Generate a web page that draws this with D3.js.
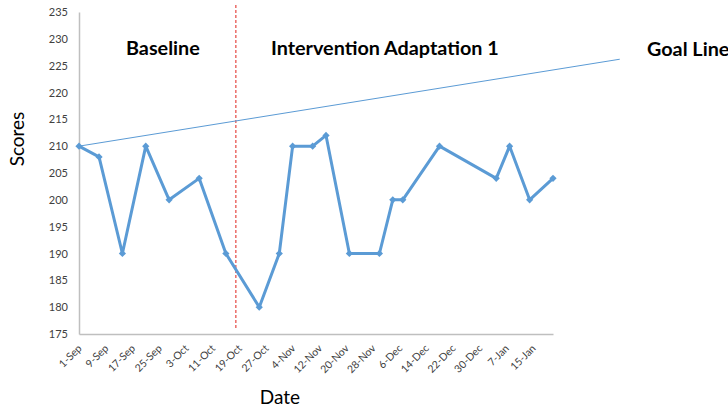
<!DOCTYPE html>
<html>
<head>
<meta charset="utf-8">
<script src="https://cdn.jsdelivr.net/npm/d3@7"></script>
<style>
  body { margin: 0; background: #fff; }
  svg { display: block; font-family: Lato, "Open Sans", sans-serif; }
</style>
</head>
<body>
<svg id="chart" width="728" height="408"></svg>
<script>
// session dates and scores
var dates = ['1-Sep', '7-Sep', '14-Sep', '21-Sep', '28-Sep', '7-Oct', '15-Oct',
  '25-Oct', '31-Oct', '4-Nov', '10-Nov', '14-Nov', '21-Nov', '30-Nov',
  '4-Dec', '7-Dec', '18-Dec', '4-Jan', '8-Jan', '14-Jan', '21-Jan'];
var scores = [210, 208, 190, 210, 200, 204, 190,
  180, 190, 210, 210, 212, 190, 190,
  200, 200, 210, 204, 210, 200, 204];

// goal line end points
var goalDates = ['1-Sep', '10-Feb'];
var goalScores = [210, 226.2];

// phase change between baseline and intervention
var phaseChange = '18-Oct';

var tickLabels = ['1-Sep', '9-Sep', '17-Sep', '25-Sep', '3-Oct', '11-Oct',
  '19-Oct', '27-Oct', '4-Nov', '12-Nov', '20-Nov', '28-Nov', '6-Dec',
  '14-Dec', '22-Dec', '30-Dec', '7-Jan', '15-Jan'];
var yTicks = [175, 180, 185, 190, 195, 200, 205, 210, 215, 220, 225, 230, 235];

var phaseLabels = ['Baseline', 'Intervention Adaptation 1', 'Goal Line'];

var parseDay = d3.utcParse('%d-%b-%Y');
// school year runs Sep..Feb, so Jan/Feb fall in the next year
function toDate(s) {
  var year = /Jan|Feb/.test(s) ? 2016 : 2015;
  return parseDay(s + '-' + year);
}

var plotLeft = 79, plotRight = 553, plotTop = 12, plotBottom = 334;

var svg = d3.select('#chart');

var x = d3.scaleUtc()
    .domain([toDate(dates[0]), toDate(dates[dates.length - 1])])
    .range([plotLeft, plotRight]);
var y = d3.scaleLinear()
    .domain([175, 235])
    .range([plotBottom, plotTop]);

// axes
var xAxis = svg.append('g')
    .attr('transform', 'translate(0,' + plotBottom + ')')
    .call(d3.axisBottom(x)
        .tickValues(tickLabels.map(toDate))
        .tickFormat(function(d, i) { return tickLabels[i]; })
        .tickSize(0)
        .tickPadding(0));
xAxis.select('.domain').attr('stroke', '#bfbfbf').attr('stroke-width', 1.5);
xAxis.selectAll('text')
    .attr('font-family', 'Lato, sans-serif')
    .attr('font-size', 10.5)
    .attr('fill', '#404040')
    .attr('text-anchor', 'end')
    .attr('dy', null)
    .attr('y', null)
    .attr('transform', 'translate(3,15) rotate(-45)');

var yAxis = svg.append('g')
    .attr('transform', 'translate(' + plotLeft + ',0)')
    .call(d3.axisLeft(y).tickValues(yTicks).tickSize(0).tickPadding(11));
yAxis.select('.domain').attr('stroke', '#bfbfbf').attr('stroke-width', 1.5);
yAxis.selectAll('text')
    .attr('font-family', 'Lato, sans-serif')
    .attr('font-size', 11)
    .attr('fill', '#404040');

// phase change line
var px = x(toDate(phaseChange));
svg.append('line')
    .attr('x1', px).attr('x2', px)
    .attr('y1', 5).attr('y2', 329)
    .attr('stroke', '#e0201b')
    .attr('stroke-width', 1)
    .attr('stroke-dasharray', '3,2');

// goal line
svg.append('line')
    .attr('x1', x(toDate(goalDates[0]))).attr('y1', y(goalScores[0]))
    .attr('x2', x(toDate(goalDates[1]))).attr('y2', y(goalScores[1]))
    .attr('stroke', '#5b9bd5')
    .attr('stroke-width', 1);

// score series
var points = dates.map(function(d, i) {
  return {date: toDate(d), value: scores[i]};
});
svg.append('path')
    .datum(points)
    .attr('fill', 'none')
    .attr('stroke', '#5b9bd5')
    .attr('stroke-width', 3)
    .attr('stroke-linejoin', 'round')
    .attr('d', d3.line()
        .x(function(d) { return x(d.date); })
        .y(function(d) { return y(d.value); }));

svg.selectAll('.marker').data(points)
    .enter().append('path')
    .attr('class', 'marker')
    .attr('d', d3.symbol(d3.symbolSquare, 26))
    .attr('fill', '#5b9bd5')
    .attr('transform', function(d) {
      return 'translate(' + x(d.date) + ',' + y(d.value) + ') rotate(45)';
    });

// phase labels
var labelPos = [[126, 55], [271, 55], [647, 56]];
svg.selectAll('.phase').data(phaseLabels)
    .enter().append('text')
    .attr('class', 'phase')
    .attr('x', function(d, i) { return labelPos[i][0]; })
    .attr('y', function(d, i) { return labelPos[i][1]; })
    .attr('font-size', 19.8)
    .attr('font-weight', 'bold')
    .attr('fill', '#000')
    .text(function(d) { return d; });

// axis titles
svg.append('text')
    .attr('transform', 'translate(24,139) rotate(-90)')
    .attr('text-anchor', 'middle')
    .attr('font-size', 19)
    .text('Scores');
svg.append('text')
    .attr('x', 280).attr('y', 404)
    .attr('text-anchor', 'middle')
    .attr('font-size', 19)
    .text('Date');
</script>
</body>
</html>
